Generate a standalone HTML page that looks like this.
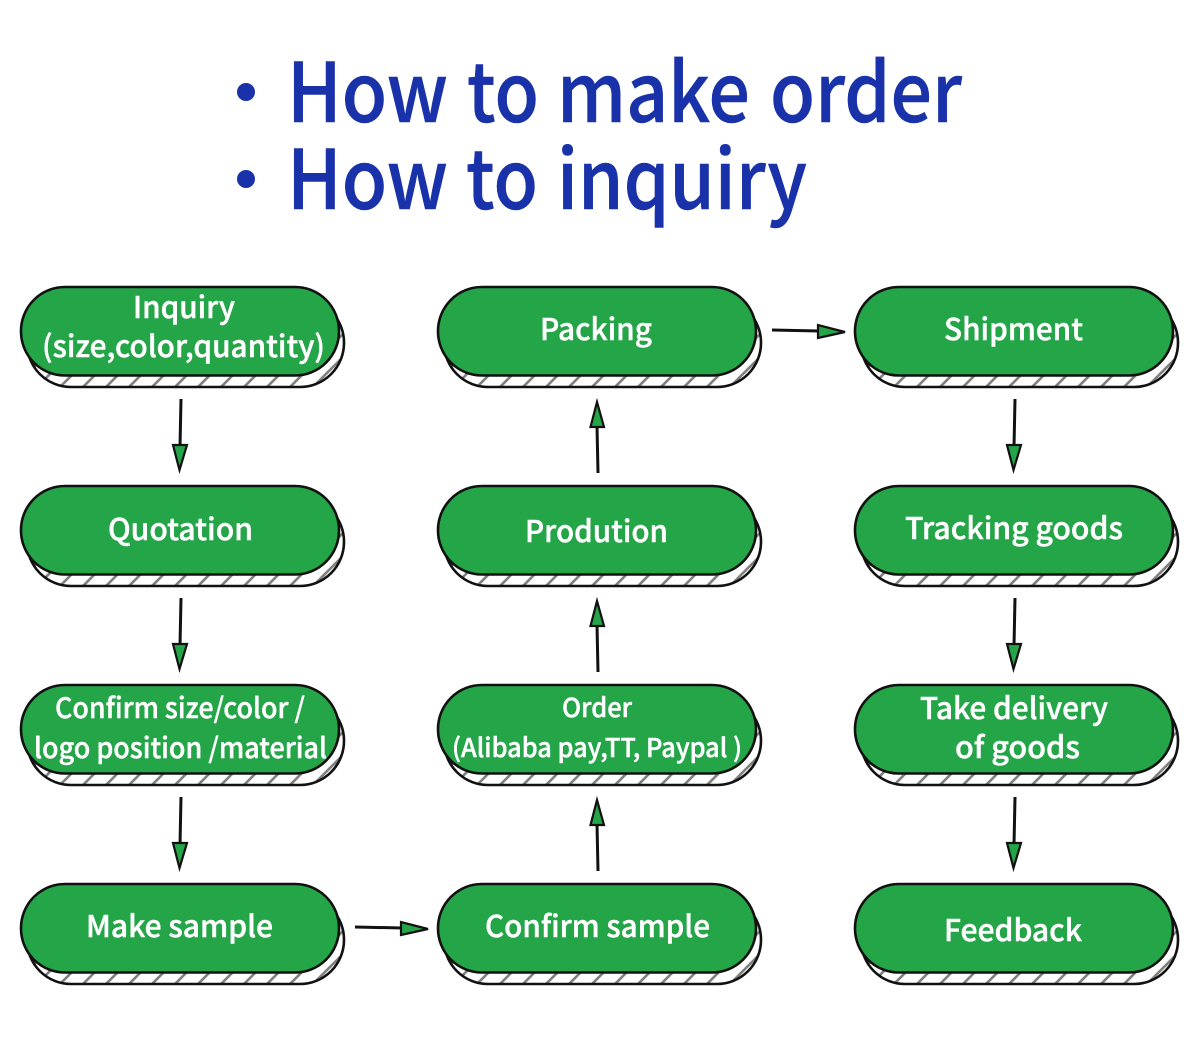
<!DOCTYPE html>
<html>
<head>
<meta charset="utf-8">
<style>
html,body{margin:0;padding:0;background:#fff}
svg{display:block}
.t{font-family:"Noto Sans CJK SC","Noto Sans CJK JP",sans-serif;font-weight:500;fill:#1a32a9;stroke:#1a32a9;stroke-width:.5px;font-size:82px}
.n{font-family:"Noto Sans CJK SC","Noto Sans CJK JP","Liberation Sans",sans-serif;font-weight:500;fill:#fff;stroke:#fff;stroke-width:.45px;font-size:30px}
</style>
</head>
<body>
<svg width="1200" height="1039" viewBox="0 0 1200 1039" xmlns="http://www.w3.org/2000/svg">
<defs>
<pattern id="h" width="23" height="23" patternUnits="userSpaceOnUse" patternTransform="translate(22 0)">
<path d="M23 0 L0 23 M25 21 L21 25 M2 -2 L-2 2" stroke="#808080" stroke-width="2.600" fill="none"/>
</pattern>
<g id="node">
<rect x="27" y="11.500" width="317" height="88.500" rx="44" ry="44" fill="#fff"/>
<rect x="27" y="11.500" width="317" height="88.500" rx="44" ry="44" fill="url(#h)" stroke="#111" stroke-width="2.600"/>
<rect x="21" y="0" width="318" height="88.500" rx="44" ry="44" fill="#23a548" stroke="#111" stroke-width="2.600"/>
</g>
<g id="down">
<path d="M181 399 L180 447" stroke="#111" stroke-width="3" fill="none"/>
<path d="M173 445 L187 445 L179.500 470 Z" fill="#23a548" stroke="#111" stroke-width="2.200"/>
</g>
<g id="up">
<path d="M598 473 L597 426" stroke="#111" stroke-width="3" fill="none"/>
<path d="M590.500 427 L604 427 L597 402 Z" fill="#23a548" stroke="#111" stroke-width="2.200"/>
</g>
<g id="right">
<path d="M772 330 L819 331" stroke="#111" stroke-width="3" fill="none"/>
<path d="M818 325 L818 338 L845 332 Z" fill="#23a548" stroke="#111" stroke-width="2.200"/>
</g>
</defs>

<circle cx="246" cy="92" r="9" fill="#1a32a9"/>
<circle cx="246" cy="179" r="9" fill="#1a32a9"/>
<text class="t" x="287" y="122" textLength="161" lengthAdjust="spacingAndGlyphs">How</text>
<text class="t" x="467" y="122" textLength="72" lengthAdjust="spacingAndGlyphs">to</text>
<text class="t" x="557" y="122" textLength="193" lengthAdjust="spacingAndGlyphs">make</text>
<text class="t" x="770" y="122" textLength="192" lengthAdjust="spacingAndGlyphs">order</text>
<text class="t" x="287" y="209" textLength="161" lengthAdjust="spacingAndGlyphs">How</text>
<text class="t" x="466" y="209" textLength="72" lengthAdjust="spacingAndGlyphs">to</text>
<text class="t" x="557" y="209" textLength="250" lengthAdjust="spacingAndGlyphs">inquiry</text>

<use href="#node" x="0" y="287"/>
<use href="#node" x="0" y="486"/>
<use href="#node" x="0" y="685"/>
<use href="#node" x="0" y="884"/>
<use href="#node" x="417" y="287"/>
<use href="#node" x="417" y="486"/>
<use href="#node" x="417" y="685"/>
<use href="#node" x="417" y="884"/>
<use href="#node" x="834" y="287"/>
<use href="#node" x="834" y="486"/>
<use href="#node" x="834" y="685"/>
<use href="#node" x="834" y="884"/>

<use href="#down" x="0" y="0"/>
<use href="#down" x="0" y="199"/>
<use href="#down" x="0" y="398"/>
<use href="#down" x="834" y="0"/>
<use href="#down" x="834" y="199"/>
<use href="#down" x="834" y="398"/>
<use href="#up" x="0" y="0"/>
<use href="#up" x="0" y="199"/>
<use href="#up" x="0" y="398"/>
<use href="#right" x="0" y="0"/>
<use href="#right" x="-417" y="597"/>

<text class="n" x="133" y="318" textLength="102" lengthAdjust="spacingAndGlyphs">Inquiry</text>
<text class="n" x="42" y="357" textLength="283" lengthAdjust="spacingAndGlyphs">(size,color,quantity)</text>
<text class="n" x="108" y="540" textLength="145" lengthAdjust="spacingAndGlyphs">Quotation</text>
<text class="n" x="55" y="718" style="font-size:28px" textLength="250" lengthAdjust="spacingAndGlyphs">Confirm size/color /</text>
<text class="n" x="34" y="758" style="font-size:28px" textLength="293" lengthAdjust="spacingAndGlyphs">logo position /material</text>
<text class="n" x="86" y="937" textLength="187" lengthAdjust="spacingAndGlyphs">Make sample</text>

<text class="n" x="540" y="340" textLength="112" lengthAdjust="spacingAndGlyphs">Packing</text>
<text class="n" x="525" y="542" textLength="143" lengthAdjust="spacingAndGlyphs">Prodution</text>
<text class="n" x="562" y="717" style="font-size:26px" textLength="70" lengthAdjust="spacingAndGlyphs">Order</text>
<text class="n" x="452" y="757" style="font-size:26px" textLength="290" lengthAdjust="spacingAndGlyphs">(Alibaba pay,TT, Paypal )</text>
<text class="n" x="485" y="937" textLength="225" lengthAdjust="spacingAndGlyphs">Confirm sample</text>

<text class="n" x="944" y="340" textLength="139" lengthAdjust="spacingAndGlyphs">Shipment</text>
<text class="n" x="905" y="539" textLength="218" lengthAdjust="spacingAndGlyphs">Tracking goods</text>
<text class="n" x="920" y="719" textLength="188" lengthAdjust="spacingAndGlyphs">Take delivery</text>
<text class="n" x="955" y="758" textLength="125" lengthAdjust="spacingAndGlyphs">of goods</text>
<text class="n" x="944" y="941" textLength="138" lengthAdjust="spacingAndGlyphs">Feedback</text>
</svg>
</body>
</html>
